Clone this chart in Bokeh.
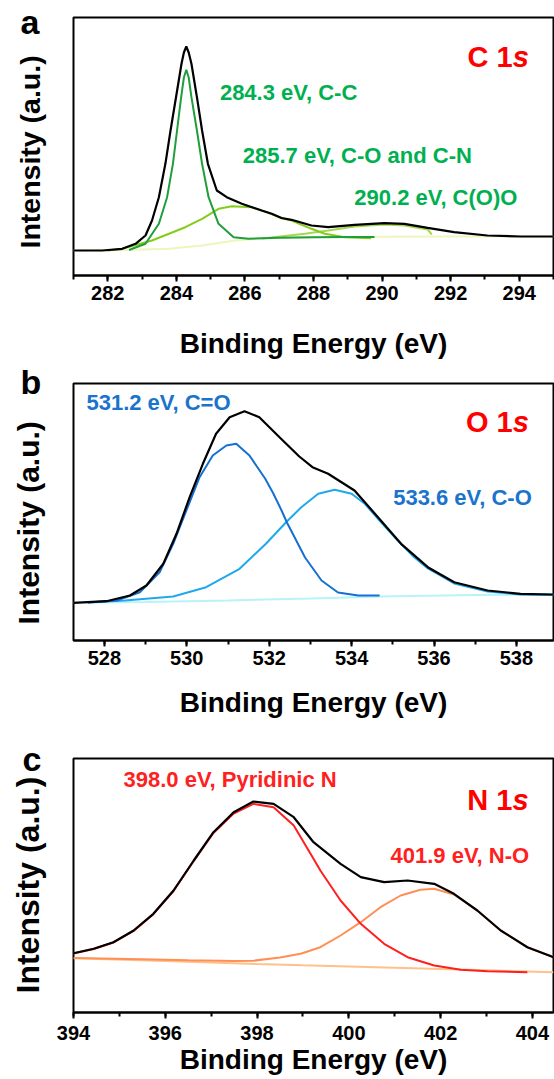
import math
from bokeh.plotting import figure
from bokeh.models import Range1d, Label, SingleIntervalTicker
from bokeh.core.properties import value
from bokeh.layouts import column, row
from bokeh.embed import file_html
from bokeh.resources import INLINE

# ---------------- data (binding energy in eV, intensity in a.u.) ----------------
# Panel a : C 1s
a_env_x = [281.0, 281.84, 282.42, 282.81, 283.10, 283.29, 283.49, 283.68, 283.83, 283.99, 284.15, 284.22,
           284.29, 284.36, 284.44, 284.60, 284.75, 284.92, 285.18, 285.47, 285.91, 286.49, 286.78, 287.07,
           287.36, 287.94, 288.43, 289.20, 290.07, 290.65, 291.33, 292.10, 293.07, 294.04, 295.0]
a_env_y = [25, 25, 26.7, 31.7, 40, 55, 78.3, 111.7, 145, 178.3, 211.7, 223,
           229, 223, 211.7, 178.3, 145, 111.7, 85, 78.3, 71.7, 65, 61.7, 57.5,
           55.7, 50, 48.3, 50.7, 52.3, 51.7, 47.7, 43.3, 40, 39, 39]
a_cc_x = [282.62, 283.10, 283.49, 283.73, 283.90, 284.02, 284.14, 284.22, 284.29, 284.36, 284.44, 284.60,
          284.75, 284.94, 285.23, 285.67, 286.10, 287.0, 288.0, 289.0, 289.78]
a_cc_y = [25.5, 31.7, 51.7, 78.3, 111.7, 145, 178.3, 198, 205.7, 198, 178.3, 145,
          111.7, 78.3, 51.7, 38.3, 36.7, 37.7, 38.3, 38.5, 38.5]
a_co_x = [282.0, 282.42, 283.29, 284.26, 284.75, 285.23, 285.62, 286.20, 286.78, 287.07, 287.36, 287.94,
          288.33, 288.91, 289.68]
a_co_y = [25, 26.7, 35, 48.3, 56.7, 66.7, 69.3, 68.3, 61.5, 57.2, 55, 46.7, 41.7, 38.3, 37.3]
a_coo_x = [286.5, 287.75, 288.43, 289.20, 290.07, 290.65, 291.33, 291.45]
a_coo_y = [37, 41.7, 45, 49, 51, 50, 46, 41]
a_bg_x = [281.0, 282.5, 283.78, 284.75, 285.71, 286.5, 287.07, 288.0, 290.0, 292.0, 295.0]
a_bg_y = [25, 25.5, 26.7, 30, 35, 37, 37.7, 38.3, 38.7, 39, 39]

# Panel b : O 1s
b_env_x = [527.25, 528.05, 528.62, 529.02, 529.43, 529.75, 530.07, 530.39, 530.71, 531.04, 531.40, 531.76,
           532.25, 532.73, 533.05, 533.43, 534.07, 534.64, 535.20, 535.85, 536.49, 537.30, 538.10, 538.9]
b_env_y = [37.7, 39.3, 45, 55, 76.7, 106.7, 143.3, 176.7, 206.7, 223.3, 229.3, 223.3,
           203.3, 184, 173.3, 166.7, 150, 123.3, 96.7, 73.3, 58.3, 50, 46.7, 46]
b_p1_x = [527.6, 528.3, 528.86, 529.34, 529.67, 529.99, 530.31, 530.63, 530.96, 531.20, 531.52, 531.90,
          532.10, 532.30, 532.43, 532.87, 533.27, 533.67, 534.16, 534.68]
b_p1_y = [38, 40, 48.3, 68.3, 96.7, 130, 163.3, 185, 195, 196.7, 185, 162,
          147, 130, 118, 83, 60, 48, 45, 45]
b_p2_x = [527.6, 528.5, 529.67, 530.47, 531.28, 531.92, 532.41, 532.78, 533.19, 533.59, 534.0, 534.32,
          534.72, 535.12, 535.5, 535.85, 536.49, 537.3, 538.1, 538.9]
b_p2_y = [38, 40, 44, 53.3, 71.7, 96.7, 118.3, 133.3, 146.7, 150.7, 146.7, 136.7,
          118, 100, 84, 72, 57, 49, 46, 45.5]
b_bg_x = [527.25, 529.0, 531.0, 533.0, 535.0, 537.0, 538.9]
b_bg_y = [37.7, 38.5, 40, 42, 44.3, 45.5, 46]

# Panel c : N 1s
c_env_x = [394.0, 394.44, 394.87, 395.31, 395.74, 396.18, 396.62, 397.05, 397.49, 397.92, 398.36, 398.80,
           399.23, 399.82, 400.26, 400.77, 401.28, 401.86, 402.29, 402.80, 403.31, 403.89, 404.46]
c_env_y = [59.3, 63.7, 70.3, 82, 98.7, 122, 152, 180.3, 200.3, 211, 208.7, 195.3,
           170.3, 148.7, 135.3, 130.3, 132, 128.7, 118.7, 102, 82, 65.3, 55.3]
c_red_x = [394.0, 394.44, 394.87, 395.31, 395.74, 396.18, 396.62, 397.05, 397.49, 397.92, 398.36, 398.80,
           399.23, 399.38, 399.82, 400.26, 400.77, 401.28, 401.86, 402.44, 403.02, 403.89]
c_red_y = [59, 63.5, 70, 81.5, 98.3, 121.5, 151.5, 179.5, 199, 208.7, 205.3, 187,
           153.7, 142, 112, 88.7, 68.7, 55.3, 47, 42.7, 41.3, 40.3]
c_or_x = [394.0, 395.5, 396.5, 397.5, 397.92, 398.5, 398.95, 399.38, 399.82, 400.26, 400.69, 401.13,
          401.56, 401.86, 402.29, 402.80, 403.31, 403.89, 404.46]
c_or_y = [54.5, 53.3, 52.3, 51.5, 51.8, 55, 58.7, 65.3, 77, 90.3, 105.3, 117,
          122.7, 123.7, 118, 102, 82, 65.3, 55.5]
c_bg_x = [394.0, 396.0, 398.0, 399.0, 401.0, 403.0, 404.46]
c_bg_y = [54.3, 51.5, 48.5, 47.2, 44.8, 42.2, 40.3]

panel_letters = ["a", "b", "c"]
x_title = "Binding Energy (eV)"
y_title = "Intensity (a.u.)"

FONT = "Liberation Sans"
W = 554
H = 1079
SIDE_W = 53
RIGHT = 553
BASE_SHIFT = 0.35   # renderer places the 'alphabetic' anchor ~0.35 em above the glyph baseline


def make_panel(fig_top, fig_h, left, top, bottom, xr, label_standoff, title_standoff):
    fh = bottom - top
    p = figure(width=W - SIDE_W, height=fig_h, x_range=Range1d(*xr), y_range=Range1d(0, fh),
               output_backend="svg", toolbar_location=None, y_axis_location=None,
               min_border_left=left - SIDE_W, min_border_right=W - RIGHT,
               min_border_top=top - fig_top, min_border_bottom=fig_top + fig_h - bottom)
    p.xgrid.visible = False
    p.ygrid.visible = False
    p.outline_line_color = "black"
    p.outline_line_width = 2
    p.outline_line_alpha = 1
    ax = p.xaxis[0]
    ax.ticker = SingleIntervalTicker(interval=2, num_minor_ticks=2)
    ax.axis_line_width = 2
    ax.major_tick_line_width = 2
    ax.minor_tick_line_width = 2
    ax.major_tick_in = 0
    ax.major_tick_out = 6
    ax.minor_tick_in = 0
    ax.minor_tick_out = 4
    ax.major_label_text_font = FONT
    ax.major_label_text_font_style = "bold"
    ax.major_label_text_font_size = "20px"
    ax.major_label_text_color = "black"
    ax.major_label_standoff = label_standoff
    ax.axis_label = x_title
    ax.axis_label_text_font = FONT
    ax.axis_label_text_font_style = "bold"
    ax.axis_label_text_font_size = "28px"
    ax.axis_label_text_color = "black"
    ax.axis_label_standoff = title_standoff
    p.background_fill_color = "white"
    p.border_fill_color = "white"
    p._geom = (fig_top, left, top, bottom, xr)
    return p


def lab(p, px, py, text, size, color, align="left", style="bold"):
    fig_top, left, top, bottom, xr = p._geom
    dx = xr[0] + (px - left) * (xr[1] - xr[0]) / (RIGHT - left)
    dy = bottom - (py - BASE_SHIFT * size)
    p.add_layout(Label(x=dx, y=dy, text=text, text_font=FONT, text_font_size=f"{size}px",
                       text_font_style=style, text_color=color, text_align=align,
                       text_baseline="alphabetic"))


# ---------------- side strip: panel letters and rotated y titles (page pixel coords) ----------------
side = figure(width=SIDE_W, height=H, x_range=Range1d(0, SIDE_W), y_range=Range1d(0, H),
              output_backend="svg", toolbar_location=None, x_axis_location=None, y_axis_location=None,
              min_border=0, min_border_left=0, min_border_right=0, min_border_top=0, min_border_bottom=0)
side.xgrid.visible = False
side.ygrid.visible = False
side.outline_line_color = None
side.background_fill_color = "white"
side.border_fill_color = "white"


def side_letter(letter, px, py):
    side.text(x=[px], y=[H - (py - BASE_SHIFT * 34)], text=[letter],
              text_font=value(FONT), text_font_style="bold", text_font_size="34px",
              text_color="black", text_align="left", text_baseline="alphabetic")


def side_ytitle(base_px, start_py, size):
    side.text(x=[base_px - BASE_SHIFT * size], y=[H - start_py], text=[y_title], angle=math.pi / 2,
              text_font=value(FONT), text_font_style="bold", text_font_size=f"{size}px",
              text_color="black", text_align="left", text_baseline="alphabetic")


side_letter(panel_letters[0], 20, 33)
side_letter(panel_letters[1], 20, 393)
side_letter(panel_letters[2], 22, 770)
side_ytitle(39, 248, 28.5)
side_ytitle(38, 624, 30)
side_ytitle(39, 993, 32)

# ---------------- panel a ----------------
pa = make_panel(0, 362, 71, 17, 275, (281.0, 295.0), 4, 25)
pa.line(a_bg_x, a_bg_y, color="#eef5bd", line_width=2)
pa.line(a_coo_x, a_coo_y, color="#a6d84e", line_width=2)
pa.line(a_co_x, a_co_y, color="#84cc1c", line_width=2)
pa.line(a_cc_x, a_cc_y, color="#1f9e3c", line_width=2)
pa.line(a_env_x, a_env_y, color="black", line_width=2.2)
lab(pa, 218, 100, "284.3 eV, C-C", 22, "#00b050")
lab(pa, 241, 163, "285.7 eV, C-O and C-N", 22, "#00b050")
lab(pa, 353, 205, "290.2 eV, C(O)O", 22, "#00b050")
lab(pa, 512, 67, "C 1", 29, "#ff0000", align="right")
lab(pa, 512, 67, "s", 29, "#ff0000", style="bold italic")

# ---------------- panel b ----------------
pb = make_panel(362, 363, 71, 383, 640, (527.25, 538.9), 4, 19)
pb.line(b_bg_x, b_bg_y, color="#b8f2fb", line_width=2)
pb.line(b_p2_x, b_p2_y, color="#1fa9ea", line_width=2)
pb.line(b_p1_x, b_p1_y, color="#1570d2", line_width=2)
pb.line(b_env_x, b_env_y, color="black", line_width=2.2)
lab(pb, 84, 410, "531.2 eV, C=O", 22, "#1a73cc")
lab(pb, 392, 505, "533.6 eV, C-O", 22, "#1a73cc")
lab(pb, 512, 432, "O 1", 29, "#ff0000", align="right")
lab(pb, 512, 432, "s", 29, "#ff0000", style="bold italic")

# ---------------- panel c ----------------
pc = make_panel(725, 354, 73, 758, 1012, (394.0, 404.46), 7, 1)
pc.line(c_bg_x, c_bg_y, color="#ffc08a", line_width=2)
pc.line(c_or_x, c_or_y, color="#ff8f55", line_width=2)
pc.line(c_red_x, c_red_y, color="#ff1f1f", line_width=2)
pc.line(c_env_x, c_env_y, color="black", line_width=2.2)
lab(pc, 123, 787, "398.0 eV, Pyridinic N", 22, "#ff2020")
lab(pc, 390, 863, "401.9 eV, N-O", 22, "#ff2020")
lab(pc, 512, 810, "N 1", 29, "#ff0000", align="right")
lab(pc, 512, 810, "s", 29, "#ff0000", style="bold italic")

layout = row(side, column(pa, pb, pc, spacing=0), spacing=0)
open("out.html", "w").write(file_html(layout, INLINE))
